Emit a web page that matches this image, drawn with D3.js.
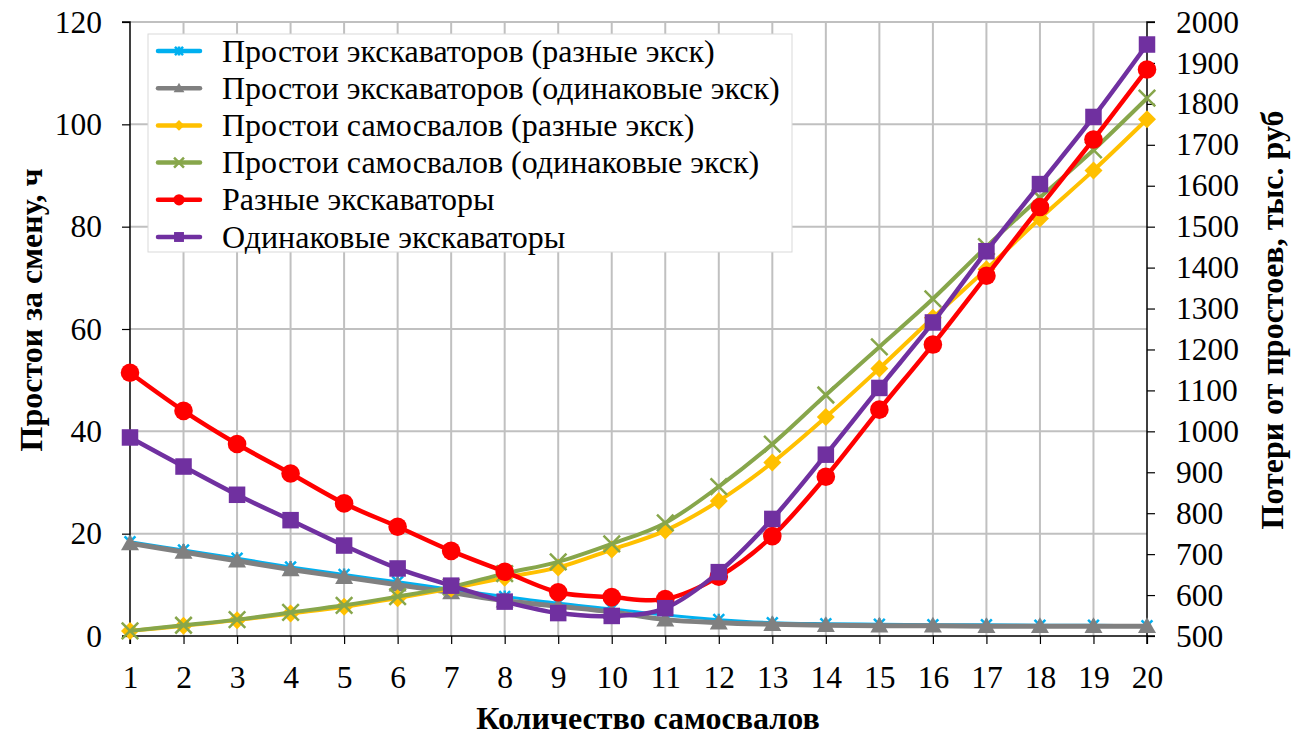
<!DOCTYPE html>
<html>
<head>
<meta charset="utf-8">
<script src="https://cdn.jsdelivr.net/npm/d3@7"></script>
<style>
  html, body { margin: 0; padding: 0; background: #fff; }
  svg { display: block; }
  svg text { font-family: "Liberation Serif", "DejaVu Serif", serif; }
</style>
</head>
<body>
<svg id="chart" width="1303" height="735"></svg>
<script>
// Number of dump trucks (x categories)
const trucks = d3.range(1, 21);

// Idle time per shift, hours (left axis)
const excIdleDiff = [18.4, 16.8, 15.2, 13.5, 12.0, 10.6, 9.1, 7.7, 6.4, 5.3, 4.1, 3.2, 2.6, 2.4, 2.3, 2.2, 2.2, 2.1, 2.1, 2.0];
const excIdleSame = [18.1, 16.4, 14.7, 13.0, 11.5, 10.0, 8.5, 6.9, 5.8, 4.7, 3.2, 2.6, 2.3, 2.1, 2.0, 2.0, 1.9, 1.9, 1.9, 1.9];
const truckIdleDiff = [1.0, 2.0, 3.1, 4.4, 5.7, 7.4, 9.3, 11.4, 13.4, 16.9, 20.6, 26.4, 33.9, 42.8, 52.3, 62.2, 71.7, 81.6, 91.0, 101.0];
const truckIdleSame = [1.0, 2.1, 3.2, 4.6, 6.0, 7.7, 9.6, 12.2, 14.5, 18.0, 22.1, 29.2, 37.5, 47.1, 56.5, 65.9, 76.1, 85.7, 95.0, 105.1];

// Losses from idle time, thousand rubles (right axis)
const lossDiff = [1143, 1050, 969, 897, 824, 767, 708, 657, 607, 595, 590, 645, 744, 889, 1053, 1212, 1380, 1548, 1713, 1884];
const lossSame = [985, 914, 845, 783, 721, 665, 623, 584, 556, 549, 568, 656, 786, 943, 1106, 1266, 1440, 1604, 1768, 1945];

// Axis ticks
const leftTicks = [0, 20, 40, 60, 80, 100, 120];
const rightTicks = d3.range(500, 2001, 100);

const seriesDefs = [
  { name: "Простои экскаваторов (разные экск)", values: excIdleDiff, axis: "left", color: "#00b0f0", width: 3, marker: "star" },
  { name: "Простои экскаваторов (одинаковые экск)", values: excIdleSame, axis: "left", color: "#808080", width: 5, marker: "triangle" },
  { name: "Простои самосвалов (разные экск)", values: truckIdleDiff, axis: "left", color: "#ffc000", width: 4, marker: "diamond" },
  { name: "Простои самосвалов (одинаковые экск)", values: truckIdleSame, axis: "left", color: "#87a64b", width: 4, marker: "cross" },
  { name: "Разные экскаваторы", values: lossDiff, axis: "right", color: "#ff0000", width: 4.5, marker: "circle" },
  { name: "Одинаковые экскаваторы", values: lossSame, axis: "right", color: "#7030a0", width: 4.5, marker: "square" }
];

const FONT = "Liberation Serif, DejaVu Serif, serif";
const svg = d3.select("#chart");
const plot = { left: 130, right: 1147, top: 22, bottom: 636 };

const x = d3.scalePoint().domain(trucks).range([plot.left, plot.right]);
const yL = d3.scaleLinear().domain([0, 120]).range([plot.bottom, plot.top]);
const yR = d3.scaleLinear().domain([500, 2000]).range([plot.bottom, plot.top]);

const gridColor = "#c0c0c0";

// Gridlines
const grid = svg.append("g");
grid.selectAll("line.h").data(leftTicks.slice(1)).join("line")
  .attr("x1", plot.left).attr("x2", plot.right)
  .attr("y1", d => yL(d)).attr("y2", d => yL(d))
  .attr("stroke", gridColor).attr("stroke-width", 2);
grid.selectAll("line.v").data(trucks.slice(1, -1)).join("line")
  .attr("x1", d => x(d)).attr("x2", d => x(d))
  .attr("y1", plot.top).attr("y2", plot.bottom)
  .attr("stroke", gridColor).attr("stroke-width", 2);

// Axes
const fontSize = 31.5;
const axisLeft = svg.append("g").attr("transform", `translate(${plot.left},0)`)
  .call(d3.axisLeft(yL).tickValues(leftTicks).tickSize(8).tickPadding(20));
const axisRight = svg.append("g").attr("transform", `translate(${plot.right},0)`)
  .call(d3.axisRight(yR).tickValues(rightTicks).tickFormat(d3.format("d")).tickSize(8).tickPadding(21));
const axisBottom = svg.append("g").attr("transform", `translate(0,${plot.bottom})`)
  .call(d3.axisBottom(x).tickSize(8).tickPadding(22));

[axisLeft, axisRight, axisBottom].forEach(g => {
  g.attr("font-family", FONT).attr("font-size", fontSize);
  g.select(".domain").attr("stroke", "#000").attr("stroke-width", 1.5);
  g.selectAll(".tick line").attr("stroke", "#000").attr("stroke-width", 1.2);
  g.selectAll(".tick text").attr("fill", "#000");
});
axisLeft.select(".domain").attr("d", `M-8,${plot.bottom}H0V${plot.top}H-8`);
axisRight.select(".domain").attr("d", `M8,${plot.bottom}H0V${plot.top}H8`);
axisBottom.select(".domain").attr("d", `M${plot.left},8V0H${plot.right}V8`);

// Axis titles
const titleSize = 32;
svg.append("text")
  .attr("transform", `translate(42,${310}) rotate(-90)`)
  .attr("text-anchor", "middle").attr("font-weight", "bold").attr("font-size", titleSize)
  .attr("font-family", FONT)
  .text("Простои за смену, ч");
svg.append("text")
  .attr("transform", `translate(1283,${320}) rotate(-90)`)
  .attr("text-anchor", "middle").attr("font-weight", "bold").attr("font-size", titleSize)
  .attr("font-family", FONT)
  .text("Потери от простоев, тыс. руб");
svg.append("text")
  .attr("x", 648).attr("y", 729)
  .attr("text-anchor", "middle").attr("font-weight", "bold").attr("font-size", titleSize)
  .attr("font-family", FONT)
  .text("Количество самосвалов");

// Marker drawing
function drawMarker(g, type, color, size) {
  const s = size;
  switch (type) {
    case "circle":
      g.append("circle").attr("r", s * 0.62).attr("fill", color);
      break;
    case "square":
      g.append("rect").attr("x", -s * 0.55).attr("y", -s * 0.55)
        .attr("width", s * 1.1).attr("height", s * 1.1).attr("fill", color);
      break;
    case "diamond":
      g.append("path").attr("d", `M0,${-s * 0.6}L${s * 0.6},0L0,${s * 0.6}L${-s * 0.6},0Z`).attr("fill", color);
      break;
    case "triangle":
      g.append("path").attr("d", `M0,${-s * 0.6}L${s * 0.6},${s * 0.45}L${-s * 0.6},${s * 0.45}Z`).attr("fill", color);
      break;
    case "cross":
      g.append("path").attr("d", `M${-s * 0.55},${-s * 0.55}L${s * 0.55},${s * 0.55}M${s * 0.55},${-s * 0.55}L${-s * 0.55},${s * 0.55}`)
        .attr("stroke", color).attr("stroke-width", 2.5);
      break;
    case "star":
      g.append("path").attr("d", `M${-s * 0.45},${-s * 0.45}L${s * 0.45},${s * 0.45}M${s * 0.45},${-s * 0.45}L${-s * 0.45},${s * 0.45}M0,${-s * 0.5}V${s * 0.5}`)
        .attr("stroke", color).attr("stroke-width", 2.5);
      break;
  }
}

// Series lines and markers
const lineGroup = svg.append("g");
seriesDefs.forEach(sd => {
  const yScale = sd.axis === "left" ? yL : yR;
  const line = d3.line()
    .x((d, i) => x(trucks[i]))
    .y(d => yScale(d))
    .curve(d3.curveCatmullRom.alpha(0));
  lineGroup.append("path").datum(sd.values)
    .attr("d", line).attr("fill", "none")
    .attr("stroke", sd.color).attr("stroke-width", sd.width)
    .attr("stroke-linejoin", "round");
  const size = sd.marker === "star" ? 12 : 15;
  sd.values.forEach((v, i) => {
    const g = lineGroup.append("g").attr("transform", `translate(${x(trucks[i])},${yScale(v)})`);
    drawMarker(g, sd.marker, sd.color, size);
  });
});

// Legend
const legend = svg.append("g").attr("transform", "translate(148,34)");
legend.append("rect").attr("width", 644).attr("height", 218)
  .attr("fill", "#fff").attr("stroke", "#d9d9d9").attr("stroke-width", 1);
seriesDefs.forEach((sd, i) => {
  const cy = 17 + i * 37.2;
  const row = legend.append("g").attr("transform", `translate(0,${cy})`);
  row.append("line").attr("x1", 10).attr("x2", 52).attr("y1", 0).attr("y2", 0)
    .attr("stroke", sd.color).attr("stroke-width", 4.5).attr("stroke-linecap", "round");
  const m = row.append("g").attr("transform", "translate(31,0)");
  drawMarker(m, sd.marker, sd.color, 9);
  row.append("text").attr("x", 74).attr("y", 10.5).attr("font-size", 32).attr("fill", "#000")
    .attr("font-family", FONT)
    .text(sd.name);
});
</script>
</body>
</html>
